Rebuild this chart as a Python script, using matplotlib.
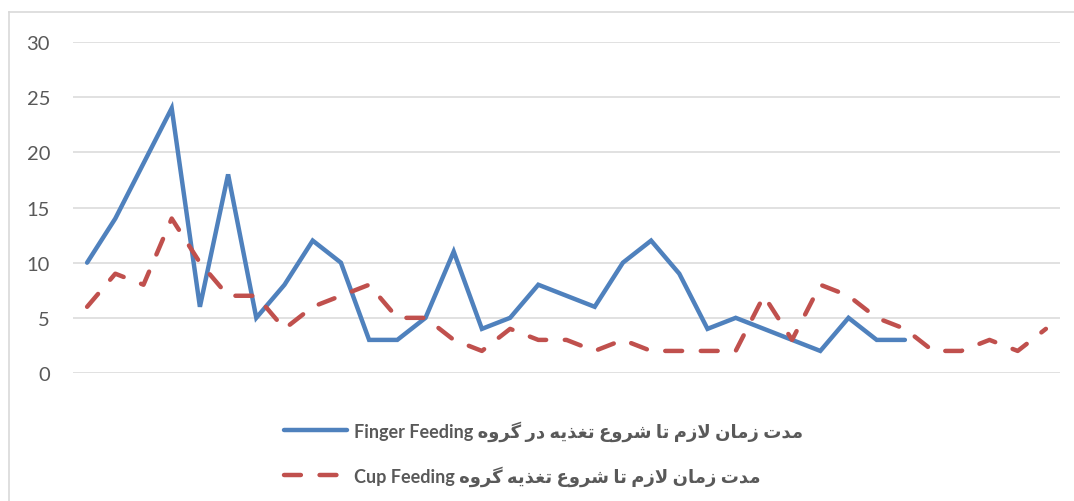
import matplotlib.pyplot as plt
from matplotlib.lines import Line2D

# values (no x tick labels in the original)
finger_feeding = [10, 14, 19, 24, 6, 18, 5, 8, 12, 10, 3, 3, 5, 11, 4, 5, 8, 7, 6, 10,
                  12, 9, 4, 5, 4, 3, 2, 5, 3, 3]
cup_feeding = [6, 9, 8, 14, 10, 7, 7, 4, 6, 7, 8, 5, 5, 3, 2, 4, 3, 3, 2, 3,
               2, 2, 2, 2, 7, 3, 8, 7, 5, 4, 2, 2, 3, 2, 4]
y_ticks = [0, 5, 10, 15, 20, 25, 30]

label_finger = "مدت زمان لازم تا شروع تغذیه در گروه"
label_cup = "مدت زمان لازم تا شروع تغذیه گروه"

# matplotlib 3.10 has no Arabic shaping, so map letters to presentation forms
# (isolated, final, initial, medial) and lay them out in visual order
FORMS = {
    '\u0627': ('\uFE8D', '\uFE8E', None, None),
    '\u062F': ('\uFEA9', '\uFEAA', None, None),
    '\u0630': ('\uFEAB', '\uFEAC', None, None),
    '\u0631': ('\uFEAD', '\uFEAE', None, None),
    '\u0632': ('\uFEAF', '\uFEB0', None, None),
    '\u0648': ('\uFEED', '\uFEEE', None, None),
    '\u062A': ('\uFE95', '\uFE96', '\uFE97', '\uFE98'),
    '\u0634': ('\uFEB5', '\uFEB6', '\uFEB7', '\uFEB8'),
    '\u0639': ('\uFEC9', '\uFECA', '\uFECB', '\uFECC'),
    '\u063A': ('\uFECD', '\uFECE', '\uFECF', '\uFED0'),
    '\u0644': ('\uFEDD', '\uFEDE', '\uFEDF', '\uFEE0'),
    '\u0645': ('\uFEE1', '\uFEE2', '\uFEE3', '\uFEE4'),
    '\u0646': ('\uFEE5', '\uFEE6', '\uFEE7', '\uFEE8'),
    '\u0647': ('\uFEE9', '\uFEEA', '\uFEEB', '\uFEEC'),
    '\u06CC': ('\uFBFC', '\uFBFD', '\uFBFE', '\uFBFF'),
    '\u064A': ('\uFEF1', '\uFEF2', '\uFEF3', '\uFEF4'),
    '\u06AF': ('\uFB92', '\uFB93', '\uFB94', '\uFB95'),
}


def shape_rtl(s):
    out = []
    i = 0
    prev_joins = False
    while i < len(s):
        c = s[i]
        if c not in FORMS:
            out.append(c)
            prev_joins = False
            i += 1
            continue
        # lam + alef ligature
        if c == '\u0644' and i + 1 < len(s) and s[i + 1] == '\u0627':
            out.append('\uFEFC' if prev_joins else '\uFEFB')
            prev_joins = False
            i += 2
            continue
        f = FORMS[c]
        nxt = s[i + 1] if i + 1 < len(s) else None
        can_next = f[2] is not None and nxt in FORMS
        if prev_joins and can_next:
            g = f[3]
        elif prev_joins:
            g = f[1]
        elif can_next:
            g = f[2]
        else:
            g = f[0]
        out.append(g)
        prev_joins = can_next
        i += 1
    return ''.join(out)[::-1]


W, H = 1074, 502
fig = plt.figure(figsize=(W / 100, H / 100), dpi=100)
ax = fig.add_axes([73 / W, (H - 374) / H, (1060 - 73) / W, (374 - 43) / H])

x1 = list(range(len(finger_feeding)))
x2 = list(range(len(cup_feeding)))

blue, = ax.plot(x1, finger_feeding, color='#4F81BD', linewidth=3.2,
                solid_capstyle='round', solid_joinstyle='miter', zorder=3)
red, = ax.plot(x2, cup_feeding, color='#C0504D', linewidth=3.2,
               linestyle=(0, (3.8, 4.2)), dash_capstyle='round', zorder=3)

ax.set_xlim(-0.5, len(cup_feeding) - 0.5)
ax.set_ylim(0, 30)
ax.set_yticks(y_ticks)
ax.set_xticks([])
ax.grid(axis='y', color='#D9D9D9', linewidth=1.1, zorder=0)
for sp in ax.spines.values():
    sp.set_visible(False)
ax.tick_params(axis='y', length=0, pad=16.5, labelsize=14.5, labelcolor='#595959')
for t in ax.get_yticklabels():
    t.set_family('Lato')

# chart area border (left and top only are visible in the crop)
fig.add_artist(Line2D([8.5 / W, 8.5 / W], [0, 1 - 13 / H], transform=fig.transFigure,
                      color='#D9D9D9', linewidth=1.2))
fig.add_artist(Line2D([8.5 / W, 1], [1 - 13 / H, 1 - 13 / H], transform=fig.transFigure,
                      color='#D9D9D9', linewidth=1.2))

leg = fig.legend([blue, red],
                 ['Finger Feeding ' + shape_rtl(label_finger),
                  'Cup Feeding ' + shape_rtl(label_cup)],
                 loc='upper left', bbox_to_anchor=(284 / W, 1 - 421 / H),
                 frameon=False, handlelength=3.5, handletextpad=0.35,
                 labelspacing=1.35, borderpad=0, borderaxespad=0,
                 prop={'family': ['Lato', 'DejaVu Sans'], 'weight': 'bold', 'size': 13})
for t in leg.get_texts():
    t.set_color('#595959')

fig.savefig('out.png', dpi=100)
